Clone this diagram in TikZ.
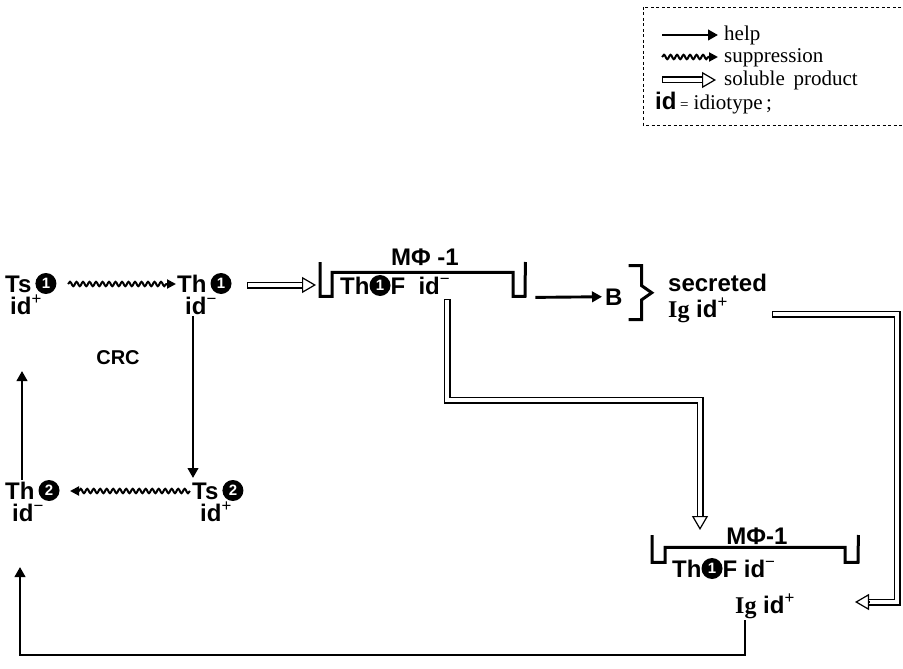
\documentclass[tikz,border=0pt]{standalone}
\usepackage{fontspec}
\setmainfont{Liberation Serif}
\newfontfamily\hvfont{Liberation Sans}
\newfontfamily\igfont{Liberation Serif}
\usetikzlibrary{arrows.meta,decorations.pathmorphing,calc}
\newcommand{\cnum}[1]{\tikz[baseline=-8.5pt]\node[circle,fill=black,text=white,inner sep=0pt,minimum size=21pt,anchor=center,align=center,font=\hvfont\bfseries\fontsize{15}{15}\selectfont] at (0,0) {#1};}
\newcommand{\igtext}{{\igfont\bfseries Ig}}
\newcommand{\solpath}[1]{\draw[solout] #1; \draw[solin] #1;}
\newcommand{\idp}{id\textsuperscript{\mdseries +}}
\newcommand{\idm}{id\textsuperscript{\mdseries −}}
\begin{document}
\begin{tikzpicture}[x=1pt,y=-1pt,
  lbl/.style={font=\hvfont\bfseries\fontsize{24}{22}\selectfont, inner sep=0pt, anchor=base west, align=left},
  leg/.style={font=\fontsize{21}{24}\selectfont, inner sep=0pt, anchor=base west},
  helparrow/.style={line width=2.9pt, -{Triangle[length=10pt,width=10.5pt]}},
  supparrow/.style={line width=2pt, decorate,
     decoration={snake, amplitude=2.2pt, segment length=6.5pt, post length=8pt},
     -{Triangle[length=9pt,width=9pt]}},
  solout/.style={line width=7pt, line join=miter, line cap=butt},
  solin/.style={line width=4.4pt, white, line join=miter, line cap=butt, shorten <=1.3pt},
  soltip/.style={line width=1.2pt, -{Triangle[open,length=14pt,width=16pt]}},
  bracket/.style={line width=3pt, line join=miter},
  boxarea/.style={minimum width=#1, inner sep=0pt, anchor=north west},
]
\useasboundingbox (0,0) rectangle (903,669);
\clip (0,0) rectangle (903,669);

% ---------- legend ----------
\draw[line width=0.9pt, dash pattern=on 3pt off 2.5pt] (643,7) rectangle (940,125);
\coordinate (lha) at (662,35); \coordinate (lhb) at (718,35);
\draw[helparrow] (lha) -- (lhb);
\node[leg] (lhelp) at (724,41) {help};
\coordinate (lsa) at (662,57); \coordinate (lsb) at (718,57);
\draw[supparrow] (lsa) -- (lsb);
\node[leg] (lsupp) at (724,63) {suppression};
\coordinate (lpa) at (662,80); \coordinate (lpb) at (702,80); \coordinate (lpc) at (716,80);
\solpath{(lpa) -- (lpb)}
\draw[soltip] (lpb) -- (lpc);
\node[leg] (lsol) at (724,86) {soluble\, product};
\node[leg] (lid) at (655,110) {{\hvfont\bfseries\fontsize{24}{26}\selectfont id}\,{\fontsize{15}{18}\selectfont =} idiotype\,;};

% ---------- CRC loop (anchor = baseline of the last line) ----------
\node[lbl] (ts1) at (5,314) {Ts\,\cnum{1}\\\hspace*{5pt}\idp};
\node[lbl] (th1) at (177,314) {Th\,\cnum{1}\\\hspace*{8pt}\idm};
\node[lbl] (th2) at (5,521) {Th\,\cnum{2}\\\hspace*{7pt}\idm};
\node[lbl] (ts2) at (192,521) {Ts\,\cnum{2}\\\hspace*{8pt}\idp};
\node[font=\hvfont\bfseries\fontsize{20}{24}\selectfont, inner sep=0pt] (crc) at (118,358) {CRC};

\coordinate (wa1) at (68,284); \coordinate (wb1) at (176,284);
\draw[supparrow] (wa1) -- (wb1);
\coordinate (wa2) at (190,491); \coordinate (wb2) at (70,491);
\draw[supparrow] (wa2) -- (wb2);
\coordinate (d1) at (193,316); \coordinate (d2) at (193,478);
\draw[helparrow] (d1) -- (d2);
\coordinate (u1) at (22,480); \coordinate (u2) at (22,371);
\draw[helparrow] (u1) -- (u2);

% ---------- first macrophage ----------
\node[boxarea=205pt, minimum height=34pt] (box1) at (320,262) {};
\draw[bracket] (box1.north west) -- (box1.south west) -- ++(12,0) -- ++(0,-24)
   -- ++(181,0) -- ++(0,24) -- ++(12,0) -- (box1.north east);
\node[lbl, anchor=base] (m1) at (425,265) {MΦ -1};
\node[lbl] (f1) at (340,294) {Th\cnum{1}F\ \ \idm};

\coordinate (p1a) at (247,285);
\coordinate (p1b) at (302,285);
\coordinate (p1c) at (316,285);
\solpath{(p1a) -- (p1b)}
\draw[soltip] (p1b) -- (p1c);

\node[lbl] (b) at (605,305) {B};
\draw[helparrow] ($(box1.south east)+(10,1)$) -- ($(b.west)+(-3,0)$);
\draw[bracket] ($(b.east)+(6,-31)$) -- ++(13,0) -- ++(0,20) -- ++(10,7) -- ++(-10,7) -- ++(0,20) -- ++(-13,0);
\node[lbl, font=\hvfont\bfseries\fontsize{24}{26}\selectfont] (sec) at (668,317) {secreted\\\igtext\ \idp};

% ---------- second macrophage ----------
\node[boxarea=206pt, minimum height=27pt] (box2) at (652,535) {};
\draw[bracket] (box2.north west) -- (box2.south west) -- ++(13,0) -- ++(0,-15)
   -- ++(180,0) -- ++(0,15) -- ++(13,0) -- (box2.north east);
\node[lbl, anchor=base] (m2) at (757,544) {MΦ-1};
\node[lbl] (f2) at (672,577) {Th\cnum{1}F\ \idm};
\node[lbl] (ig2) at (735,613) {\igtext\ \idp};

% box1 -> box2 (soluble product)
\coordinate (q1) at (447,299);
\coordinate (q2) at (447,400);
\coordinate (q3) at (700,400);
\coordinate (q4) at (700,516);
\coordinate (q5) at (700,530);
\solpath{(q1) -- (q2) -- (q3) -- (q4)}
\draw[soltip] (q4) -- (q5);

% secreted Ig -> box2 (soluble product)
\coordinate (r1) at (772,314);
\coordinate (r2) at (897,314);
\coordinate (r3) at (897,602);
\coordinate (r4) at (869,602);
\coordinate (r5) at (855,602);
\solpath{(r1) -- (r2) -- (r3) -- (r4)}
\draw[soltip] (r4) -- (r5);

% box2 -> Th2 (help)
\coordinate (h1) at (745,620);
\coordinate (h2) at (745,655);
\coordinate (h3) at (20,655);
\coordinate (h4) at (20,567);
\draw[helparrow, line join=miter] (h1) -- (h2) -- (h3) -- (h4);
\end{tikzpicture}
\end{document}
